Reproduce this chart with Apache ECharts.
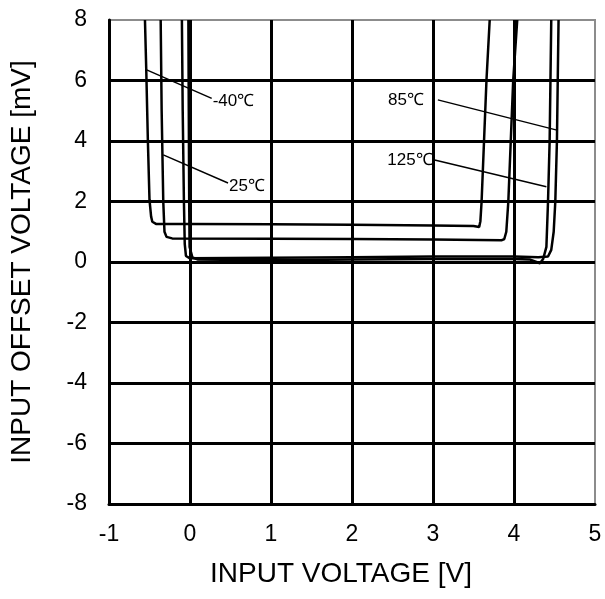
<!DOCTYPE html>
<html><head><meta charset="utf-8">
<script src="https://cdn.jsdelivr.net/npm/echarts@6/dist/echarts.min.js"></script>
<style>html,body{margin:0;padding:0;background:#fff}#c{width:605px;height:599px}</style>
</head><body><div id="c"></div>
<script>
// Curves: [input voltage V, offset mV]
const curveM40 = [[-0.556,8],[-0.54,6.35],[-0.52,4],[-0.50,2.05],[-0.48,1.5],[-0.465,1.33],[-0.42,1.26],[0,1.26],[1,1.25],[2,1.23],[3,1.21],[3.5,1.19],[3.57,1.16],[3.585,1.35],[3.60,2.0],[3.63,4],[3.66,6],[3.70,8]];
const curve25 = [[-0.362,8],[-0.35,5],[-0.33,2],[-0.315,1.0],[-0.29,0.83],[-0.22,0.78],[1,0.77],[2,0.76],[3,0.74],[3.85,0.72],[3.88,0.76],[3.905,1.0],[3.93,2.0],[3.96,4],[3.99,6],[4.04,8]];
const curve85 = [[-0.10,8],[-0.09,5],[-0.075,2],[-0.065,0.6],[-0.05,0.2],[0,0.12],[1,0.14],[2,0.16],[3,0.18],[4,0.18],[4.3,0.16],[4.42,0.18],[4.46,0.4],[4.49,1.0],[4.51,2],[4.53,4],[4.54,6],[4.55,8]];
const curve125 = [[-0.02,8],[-0.015,5],[-0.01,2],[-0.005,0.5],[0.03,0.15],[0.1,0.08],[1,0.06],[2,0.08],[3,0.1],[4,0.1],[4.2,0.08],[4.32,-0.04],[4.36,0.1],[4.40,0.5],[4.42,2],[4.44,4],[4.45,6],[4.46,8]];
// Leader lines: [start, end] and label text
const leaderM40 = [[-0.535,6.35],[0.268,5.41]];
const leader25 = [[-0.33,3.54],[0.469,2.61]];
const leader85 = [[3.06,5.36],[4.53,4.36]];
const leader125 = [[3.02,3.37],[4.40,2.49]];
const labelTexts = ['-40℃','25℃','85℃','125℃'];
const xTicks = [-1,0,1,2,3,4,5];
const yTicks = [-8,-6,-4,-2,0,2,4,6,8];

const FONT = 'Liberation Sans, Arial, sans-serif';
const chart = echarts.init(document.getElementById('c'));
const curveStyle = {color:'#000', width:2.5};
function curve(d){return {type:'line', data:d, symbol:'none', lineStyle:curveStyle, silent:true, z:5};}
const lblBase = {show:true, color:'#000', fontSize:17, fontFamily:FONT};
function leader(d, text, side, dist){
  const pts = d.map(p=>({value:p}));
  if(side==='right'){
    pts[1].label = Object.assign({}, lblBase, {position:'right', distance:dist, offset:[0,3], formatter:text});
  } else {
    pts[0].label = Object.assign({}, lblBase, {position:'left', distance:dist, offset:[0,0], formatter:text});
  }
  return {type:'line', data:pts, symbol:'circle', symbolSize:0.01, showSymbol:true, lineStyle:{color:'#000', width:1.5}, itemStyle:{color:'#000'}, silent:true, z:6};
}
chart.setOption({
  animation:false,
  backgroundColor:'#fff',
  grid:{left:109, right:10, top:20, bottom:95, show:true, borderColor:'#8c8c8c', borderWidth:2},
  xAxis:{type:'value', min:-1, max:5, interval:1,
    name:'INPUT VOLTAGE [V]', nameLocation:'middle', nameGap:56,
    nameTextStyle:{fontSize:28, color:'#000', fontFamily:FONT, padding:[0,22,0,0]},
    axisLine:{show:true, onZero:false, lineStyle:{color:'#000', width:3}},
    axisTick:{show:false},
    axisLabel:{fontSize:23, color:'#000', margin:19, fontFamily:FONT,
      formatter:v=>xTicks.includes(v)?String(v):''},
    splitLine:{show:true, showMinLine:false, showMaxLine:false, lineStyle:{color:'#000', width:3}}
  },
  yAxis:{type:'value', min:-8, max:8, interval:2,
    name:'INPUT OFFSET VOLTAGE [mV]', nameLocation:'middle', nameGap:73,
    nameTextStyle:{fontSize:28, color:'#000', fontFamily:FONT},
    axisLine:{show:true, onZero:false, lineStyle:{color:'#000', width:3}},
    axisTick:{show:false},
    axisLabel:{fontSize:23, color:'#000', margin:22, fontFamily:FONT,
      formatter:v=>yTicks.includes(v)?String(v):''},
    splitLine:{show:true, showMinLine:false, showMaxLine:false, lineStyle:{color:'#000', width:3}}
  },
  series:[
    curve(curveM40), curve(curve25), curve(curve85), curve(curve125),
    leader(leaderM40, labelTexts[0], 'right', 1),
    leader(leader25, labelTexts[1], 'right', 1),
    leader(leader85, labelTexts[2], 'left', 14),
    leader(leader125, labelTexts[3], 'left', 2)
  ]
});
</script></body></html>
